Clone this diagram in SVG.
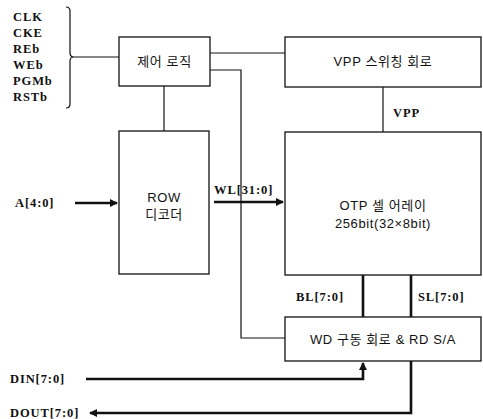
<svg xmlns="http://www.w3.org/2000/svg" width="483" height="419" viewBox="0 0 483 419">
<style>
.box{fill:#fff;stroke:#111;stroke-width:1.3}
.sig{font-family:"Liberation Serif","DejaVu Serif",serif;font-weight:bold;font-size:12.5px;letter-spacing:0.9px;fill:#111}
.lbl{font-family:"Liberation Sans","Noto Sans CJK KR",sans-serif;font-size:13px;letter-spacing:0.6px;fill:#111}
.thin{fill:none;stroke:#111;stroke-width:1.2}
.thick{fill:none;stroke:#111;stroke-width:2.6}
</style>
<defs>
<marker id="ah" markerWidth="8" markerHeight="8" refX="7" refY="4" orient="auto" markerUnits="userSpaceOnUse">
<path d="M0,0 L8,4 L0,8 Z" fill="#111"/>
</marker>
</defs>
<rect width="483" height="419" fill="#fff"/>
<g id="connectors">
<path class="thin" d="M66,7 Q70,7 70,11 L70,53 Q70,57 74,57 Q70,57 70,61 L70,104 Q70,108 66,108"/>
<line class="thin" x1="74" y1="57" x2="119" y2="57"/>
<line class="thin" x1="210" y1="53" x2="285" y2="53"/>
<polyline class="thin" points="210,70 241,70 241,338 285,338"/>
<line class="thin" x1="164" y1="86" x2="164" y2="131"/>
<line class="thin" x1="383" y1="87" x2="383" y2="132"/>
<line class="thick" x1="75" y1="203" x2="117" y2="203" marker-end="url(#ah)"/>
<line class="thick" x1="214" y1="202" x2="283" y2="202" marker-end="url(#ah)"/>
<line class="thick" x1="363" y1="275" x2="363" y2="317"/>
<line class="thick" x1="411" y1="275" x2="411" y2="317"/>
<polyline class="thick" points="86,379 363,379 363,363" marker-end="url(#ah)"/>
<polyline class="thick" points="411,361 411,413 90,413" marker-end="url(#ah)"/>
</g>
<g id="inputs">
<text class="sig" x="13" y="21">CLK</text>
<text class="sig" x="13" y="37">CKE</text>
<text class="sig" x="13" y="53">REb</text>
<text class="sig" x="13" y="69">WEb</text>
<text class="sig" x="13" y="85">PGMb</text>
<text class="sig" x="13" y="101">RSTb</text>
<text class="sig" x="15" y="207">A[4:0]</text>
<text class="sig" x="214" y="194">WL[31:0]</text>
<text class="sig" x="393" y="117">VPP</text>
<text class="sig" x="296" y="301">BL[7:0]</text>
<text class="sig" x="418" y="301">SL[7:0]</text>
<text class="sig" x="10" y="383">DIN[7:0]</text>
<text class="sig" x="10" y="417">DOUT[7:0]</text>
</g>
<g id="ctrl">
<rect class="box" x="119" y="37" width="91" height="49"/>
<text class="lbl" x="164.5" y="66" text-anchor="middle">제어 로직</text>
</g>
<g id="vpp">
<rect class="box" x="285" y="37" width="196" height="50"/>
<text class="lbl" x="383" y="66" text-anchor="middle">VPP 스위칭 회로</text>
</g>
<g id="row">
<rect class="box" x="119" y="131" width="90" height="143"/>
<text class="lbl" x="164" y="202" text-anchor="middle">ROW</text>
<text class="lbl" x="164" y="219" text-anchor="middle">디코더</text>
</g>
<g id="otp">
<rect class="box" x="285" y="132" width="196" height="143"/>
<text class="lbl" x="383" y="210" text-anchor="middle">OTP 셀 어레이</text>
<text class="lbl" x="383" y="228" text-anchor="middle">256bit(32×8bit)</text>
</g>
<g id="wd">
<rect class="box" x="285" y="317" width="196" height="44"/>
<text class="lbl" x="383" y="344" text-anchor="middle">WD 구동 회로 &amp; RD S/A</text>
</g>
</svg>
